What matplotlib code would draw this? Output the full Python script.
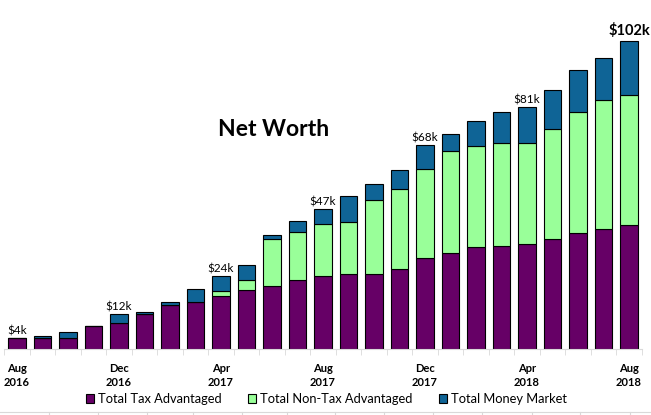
import numpy as np
import matplotlib.pyplot as plt
from matplotlib.lines import Line2D
from matplotlib.patches import Patch

plt.rcParams['font.family'] = ['Lato', 'DejaVu Sans']

# Monthly values, in $k (Aug 2016 .. Aug 2018)
months = ['Aug', 'Sep', 'Oct', 'Nov', 'Dec', 'Jan', 'Feb', 'Mar', 'Apr', 'May', 'Jun', 'Jul'] * 2 + ['Aug']
years = [2016] * 5 + [2017] * 12 + [2018] * 8
tax = [3.6, 3.7, 3.7, 7.5, 8.6, 11.8, 14.8, 15.7, 17.5, 19.5, 20.8, 22.8, 24.3,
       24.8, 25.1, 26.7, 30.4, 32.0, 34.0, 34.4, 34.9, 36.5, 38.7, 40.0, 41.1]
nontax = [0, 0, 0, 0, 0, 0, 0, 0, 1.7, 3.6, 15.9, 16.2, 17.4,
          17.3, 24.6, 26.7, 29.4, 33.8, 33.7, 34.3, 33.6, 36.7, 40.0, 43.0, 43.5]
money = [0.0, 0.5, 1.9, 0.3, 3.0, 0.4, 1.0, 4.1, 5.0, 5.0, 1.3, 3.5, 5.0,
         8.9, 5.3, 6.1, 8.1, 5.6, 8.1, 10.1, 12.1, 12.9, 14.0, 13.7, 17.8]
label_idx = [0, 4, 8, 12, 16, 20, 24]

c_tax = '#660066'
c_non = '#99ff99'
c_mm = '#0f6496'

x = np.arange(len(tax))
tax = np.array(tax)
nontax = np.array(nontax)
money = np.array(money)
total = tax + nontax + money

fig = plt.figure(figsize=(6.51, 4.15), dpi=100)
ax = fig.add_axes([4.25 / 651, 66 / 415, 637.5 / 651, 336.6 / 415])

kw = dict(width=0.7, edgecolor='black', linewidth=0.8)
ax.bar(x, tax, color=c_tax, **kw)
ax.bar(x, nontax, bottom=tax, color=c_non, **kw)
ax.bar(x, money, bottom=tax + nontax, color=c_mm, **kw)

ax.set_xlim(-0.5, len(tax) - 0.5)
ax.set_ylim(0, 112)
ax.set_yticks([])
for s in ['left', 'right', 'top']:
    ax.spines[s].set_visible(False)
ax.spines['bottom'].set_color('#d9d9d9')

ax.set_xticks(x[::4])
ax.set_xticklabels([f'{m}\n{y}' for m, y in zip(months[::4], years[::4])],
                   fontsize=8, fontweight='bold')
ax.set_xticks(np.arange(-0.5, len(tax), 1), minor=True)
ax.tick_params(axis='x', which='major', length=0, pad=10)
ax.tick_params(axis='x', which='minor', length=4, color='#d9d9d9')
for lbl in ax.get_xticklabels():
    lbl.set_linespacing(1.3)

for i in label_idx:
    last = i == label_idx[-1]
    ax.annotate(f'${round(total[i])}k', (x[i], total[i]), xytext=(0, 2 if last else 1),
                textcoords='offset points', ha='center', va='bottom',
                fontsize=10.5 if last else 8.5, fontweight='bold' if last else 'normal')

fig.text(274 / 651, 1 - 129 / 415, 'Net Worth', ha='center', va='center',
         fontsize=16.5, fontweight='bold')

handles = [Patch(facecolor=c_tax, edgecolor='black', linewidth=0.8),
           Patch(facecolor=c_non, edgecolor='black', linewidth=0.8),
           Patch(facecolor=c_mm, edgecolor='black', linewidth=0.8)]
fig.legend(handles, ['Total Tax Advantaged', 'Total Non-Tax Advantaged', 'Total Money Market'],
           loc='center', bbox_to_anchor=(326.5 / 651, 1 - 399 / 415), ncol=3, frameon=False,
           fontsize=9.25, handlelength=0.6, handleheight=0.6, handletextpad=0.3,
           columnspacing=2.1, borderaxespad=0)

# spreadsheet cell border peeking in at the bottom
fig.add_artist(Line2D([0, 1], [3 / 415, 3 / 415], color='#d9d9d9', linewidth=0.8))
for cx in [49, 98, 147, 193, 242, 287, 335, 384, 433, 482, 532, 580, 630]:
    fig.add_artist(Line2D([cx / 651, cx / 651], [0, 3 / 415], color='#d9d9d9', linewidth=0.8))

fig.savefig('out.png', dpi=100)
